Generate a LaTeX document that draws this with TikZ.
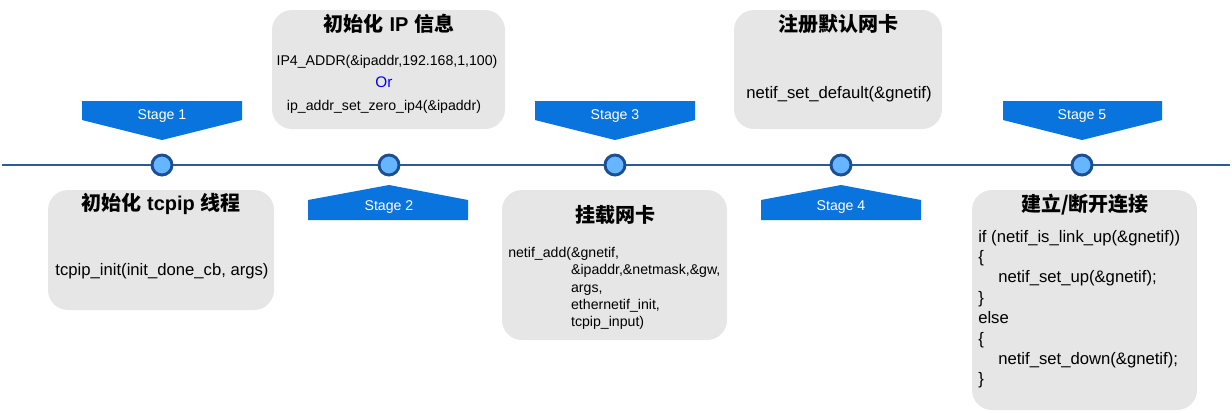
\documentclass[tikz,border=0pt]{standalone}
\usepackage{fontspec}
\setmainfont{Liberation Sans}
\newfontfamily\cjk{Noto Sans CJK SC}
\newcommand\zhtext[1]{{\cjk\bfseries #1}}
\definecolor{boxgray}{HTML}{E6E6E6}
\definecolor{stageblue}{HTML}{0A74DE}
\definecolor{linecol}{HTML}{2B5C9A}
\definecolor{dotfill}{HTML}{66B5FF}
\definecolor{dotborder}{HTML}{1B4F94}
\definecolor{orblue}{HTML}{0000FF}
\tikzset{
  panel/.style={fill=boxgray, rounded corners=15pt},
  stageshape/.style={fill=stageblue},
  stagelabel/.style={text=white, font=\fontsize{10.6}{12}\selectfont, inner sep=0pt},
  title/.style={font=\bfseries\fontsize{15}{17}\selectfont, inner sep=0pt},
  body/.style={font=\fontsize{12.5}{15}\selectfont, inner sep=0pt},
  smallbody/.style={font=\fontsize{10.6}{12.7}\selectfont, inner sep=0pt},
  dot/.style={circle, draw=dotborder, fill=dotfill, line width=2.2pt, minimum size=15pt, inner sep=0pt},
  timeline/.style={draw=linecol, line width=1.5pt}
}
\begin{document}
\begin{tikzpicture}[x=0.75pt,y=-0.75pt]
\useasboundingbox (0,0) rectangle (1232,412);

% timeline
\coordinate (L) at (2,165);
\coordinate (R) at (1230,165);
\draw[timeline] (L) -- (R);

% panels
\path[panel] (48,190) rectangle (274,310);
\path[panel] (272,10) rectangle (505,129);
\path[panel] (502,190) rectangle (727,340);
\path[panel] (734,10) rectangle (942,129);
\path[panel] (972,190) rectangle (1197,410);

% stage shapes (down)
\path[stageshape] (82,101) -- (242,101) -- (242,120) -- (162,140) -- (82,120) -- cycle;
\path[stageshape] (535,101) -- (695,101) -- (695,120) -- (615,140) -- (535,120) -- cycle;
\path[stageshape] (1003,101) -- (1162,101) -- (1162,120) -- (1082,140) -- (1003,120) -- cycle;
% stage shapes (up)
\path[stageshape] (389,185) -- (468,200) -- (468,220) -- (308,220) -- (308,200) -- cycle;
\path[stageshape] (841,185) -- (921,200) -- (921,220) -- (761,220) -- (761,200) -- cycle;

\node[stagelabel] (s1) at (162,116) {Stage 1};
\node[stagelabel] (s2) at (389,207) {Stage 2};
\node[stagelabel] (s3) at (615,116) {Stage 3};
\node[stagelabel] (s4) at (841,207) {Stage 4};
\node[stagelabel] (s5) at (1082,116) {Stage 5};

% dots
\node[dot] (d1) at (162,165) {};
\node[dot] (d2) at (389,165) {};
\node[dot] (d3) at (615,165) {};
\node[dot] (d4) at (841,165) {};
\node[dot] (d5) at (1082,165) {};

% panel 1
\node[title] (t1) at (161,204) {\zhtext{初始化} tcpip \zhtext{线程}};
\node[body] (b1) at (162,271) {tcpip\_init(init\_done\_cb, args)};

% panel 2
\node[title] (t2) at (389,24) {\zhtext{初始化} IP \zhtext{信息}};
\node[smallbody] (b2a) at (387,62) {IP4\_ADDR(\&ipaddr,192.168,1,100)};
\node[smallbody, text=orblue, font=\fontsize{11.5}{13}\selectfont] (b2b) at (384,82) {Or};
\node[smallbody] (b2c) at (384,107) {ip\_addr\_set\_zero\_ip4(\&ipaddr)};

% panel 3
\node[title] (t3) at (615,215) {\zhtext{挂载网卡}};
\node[smallbody, anchor=base west] (b3) at (508,257.5) {\renewcommand\arraystretch{1.02}\begin{tabular}[t]{@{}l@{}}
netif\_add(\&gnetif,\\
\phantom{netif\_add(}\&ipaddr,\&netmask,\&gw,\\
\phantom{netif\_add(}args,\\
\phantom{netif\_add(}ethernetif\_init,\\
\phantom{netif\_add(}tcpip\_input)
\end{tabular}};

% panel 4
\node[title] (t4) at (838,24) {\zhtext{注册默认网卡}};
\node[body] (b4) at (839,94) {netif\_set\_default(\&gnetif)};

% panel 5
\node[title] (t5) at (1085,205) {\zhtext{建立/断开连接}};
\node[body, anchor=base west] (b5) at (978,242) {\renewcommand\arraystretch{1.02}\begin{tabular}[t]{@{}l@{}}
if (netif\_is\_link\_up(\&gnetif))\\
\{\\
\hspace*{15pt}netif\_set\_up(\&gnetif);\\
\}\\
else\\
\{\\
\hspace*{15pt}netif\_set\_down(\&gnetif);\\
\}
\end{tabular}};
\end{tikzpicture}
\end{document}
